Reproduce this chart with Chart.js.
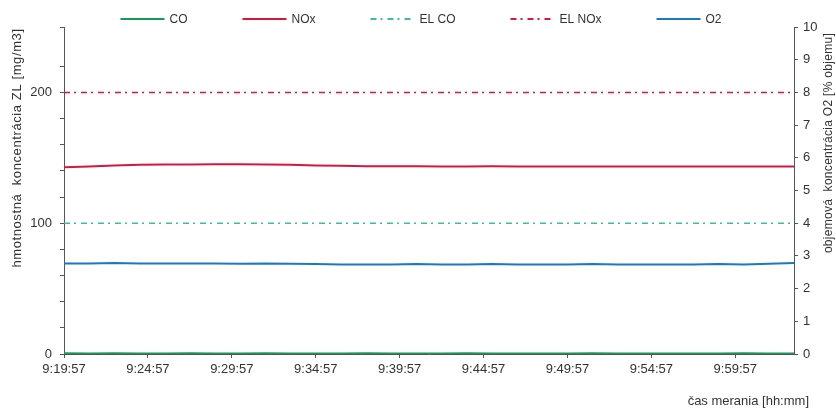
<!DOCTYPE html>
<html>
<head>
<meta charset="utf-8">
<script src="https://cdn.jsdelivr.net/npm/chart.js@4/dist/chart.umd.min.js"></script>
<style>
  html, body { margin: 0; padding: 0; background: #fff; }
  #wrap { width: 836px; height: 409px; position: relative; }
</style>
</head>
<body>
<div id="wrap"><canvas id="c" width="836" height="409"></canvas></div>
<script>
// Measurement start time and sample times (minutes after start)
const startTime = [9, 19, 57];
const minutes = [0, 1.5, 3, 4.5, 6, 7.5, 9, 10.5, 12, 13.5, 15, 16.5, 18, 19.5, 21,
                 22.5, 24, 25.5, 27, 28.5, 30, 31.5, 33, 34.5, 36, 37.5, 39, 40.5, 42, 43.5];

// Mass concentrations [mg/m3]
const co  = [0.5, 0.4, 0.5, 0.4, 0.4, 0.5, 0.4, 0.4, 0.5, 0.4, 0.4, 0.4, 0.5, 0.4, 0.4,
             0.4, 0.5, 0.4, 0.4, 0.4, 0.4, 0.5, 0.4, 0.4, 0.4, 0.4, 0.4, 0.5, 0.4, 0.4];
const nox = [142.7, 143.4, 144.1, 144.6, 144.8, 144.9, 145.0, 145.0, 144.9, 144.6, 144.2, 143.9, 143.6, 143.5, 143.5,
             143.4, 143.4, 143.5, 143.4, 143.4, 143.3, 143.4, 143.3, 143.3, 143.3, 143.4, 143.3, 143.3, 143.3, 143.4];

// Emission limits [mg/m3]
const elCo = 100;
const elNox = 200;

// Volume concentration of O2 [% vol.]
const o2 = [2.77, 2.77, 2.78, 2.77, 2.77, 2.77, 2.77, 2.76, 2.77, 2.76, 2.75, 2.74, 2.74, 2.74, 2.75,
            2.74, 2.74, 2.75, 2.74, 2.74, 2.74, 2.75, 2.74, 2.74, 2.74, 2.74, 2.75, 2.74, 2.76, 2.78];

// Axis texts
const leftTitle = 'hmotnostná  koncentrácia ZL [mg/m3]';
const rightTitle = 'objemová  koncentrácia O2 [% objemu]';
const xTitle = 'čas merania [hh:mm]';
const leftLabels = [0, 100, 200];

const FONT = '"Liberation Sans", Arial, sans-serif';
const TXT = '#333333';
const AXIS = '#555555';

function pts(ys) { return minutes.map((m, i) => ({ x: m, y: ys[i] })); }
function flat(v) { return [{ x: minutes[0], y: v }, { x: minutes[minutes.length - 1], y: v }]; }

function clock(m) {
  let s = startTime[0] * 3600 + startTime[1] * 60 + startTime[2] + Math.round(m * 60);
  const h = Math.floor(s / 3600); s -= h * 3600;
  const mm = Math.floor(s / 60); const ss = s - mm * 60;
  return h + ':' + String(mm).padStart(2, '0') + ':' + String(ss).padStart(2, '0');
}

const DASH = [6, 4, 2, 5];

const datasets = [
  { label: 'CO', data: pts(co), yAxisID: 'y', borderColor: '#159a5c', borderWidth: 2 },
  { label: 'NOx', data: pts(nox), yAxisID: 'y', borderColor: '#d4173f', borderWidth: 2 },
  { label: 'EL CO', data: flat(elCo), yAxisID: 'y', borderColor: '#3dbd9a', borderWidth: 1.5, borderDash: DASH },
  { label: 'EL NOx', data: flat(elNox), yAxisID: 'y', borderColor: '#d3184a', borderWidth: 1.5, borderDash: DASH },
  { label: 'O2', data: pts(o2), yAxisID: 'y1', borderColor: '#1b79c4', borderWidth: 2 }
];
datasets.forEach(d => { d.pointRadius = 0; d.tension = 0; d.fill = false; });

// Legend row and axis titles drawn directly on the canvas
const decorations = {
  id: 'decorations',
  afterDraw(chart) {
    const ctx = chart.ctx;
    ctx.save();
    ctx.font = '12px ' + FONT;
    ctx.fillStyle = TXT;
    ctx.textBaseline = 'middle';

    // legend
    const lineLen = 44, gap = 5, spacing = 55, ly = 19;
    const items = chart.data.datasets.map(d => ({ d, w: ctx.measureText(d.label).width }));
    const total = items.reduce((a, it) => a + lineLen + gap + it.w, 0) + spacing * (items.length - 1);
    let x = 421 - total / 2;
    items.forEach(it => {
      ctx.beginPath();
      ctx.strokeStyle = it.d.borderColor;
      ctx.lineWidth = 2;
      ctx.setLineDash(it.d.borderDash || []);
      ctx.moveTo(x, ly); ctx.lineTo(x + lineLen, ly);
      ctx.stroke();
      ctx.setLineDash([]);
      ctx.textAlign = 'left';
      ctx.fillText(it.d.label, x + lineLen + gap, ly + 1);
      x += lineLen + gap + it.w + spacing;
    });

    ctx.textAlign = 'center';

    // left axis title
    ctx.save();
    ctx.font = '13px ' + FONT;
    ctx.letterSpacing = '0.6px';
    ctx.translate(17, 148);
    ctx.rotate(-Math.PI / 2);
    ctx.fillText(leftTitle, 0, 0);
    ctx.restore();

    // right axis title
    ctx.save();
    ctx.font = '12px ' + FONT;
    ctx.letterSpacing = '0.3px';
    ctx.translate(829, 143);
    ctx.rotate(-Math.PI / 2);
    ctx.fillText(rightTitle, 0, 0);
    ctx.restore();

    // x axis title
    ctx.font = '13px ' + FONT;
    ctx.textAlign = 'right';
    ctx.fillText(xTitle, 809, 401);
    ctx.restore();
  }
};

new Chart(document.getElementById('c'), {
  type: 'line',
  data: { datasets },
  plugins: [decorations],
  options: {
    responsive: false,
    animation: false,
    layout: { padding: { top: 27, left: 0, right: 0, bottom: 0 } },
    plugins: { legend: { display: false }, tooltip: { enabled: false } },
    scales: {
      x: {
        type: 'linear',
        min: minutes[0],
        max: minutes[minutes.length - 1],
        afterBuildTicks: s => { s.ticks = s.ticks.filter(t => t.value % 5 === 0); },
        afterFit: s => { s.height = 55; },
        ticks: {
          stepSize: 5,
          maxRotation: 0,
          autoSkip: false,
          padding: 4,
          color: TXT,
          font: { family: FONT, size: 13 },
          callback: v => clock(v)
        },
        grid: { drawOnChartArea: false, drawTicks: true, tickLength: 4, color: AXIS },
        border: { display: true, color: AXIS, width: 1 }
      },
      y: {
        position: 'left',
        min: 0,
        max: 250,
        afterFit: s => { s.width = 64; },
        ticks: {
          stepSize: 20,
          autoSkip: false,
          padding: 8,
          color: TXT,
          font: { family: FONT, size: 13 },
          callback: v => leftLabels.includes(v) ? String(v) : ''
        },
        grid: { drawOnChartArea: false, drawTicks: true, tickLength: 4, color: AXIS },
        border: { display: true, color: AXIS, width: 1 }
      },
      y1: {
        position: 'right',
        min: 0,
        max: 10,
        afterFit: s => { s.width = 42; },
        ticks: {
          stepSize: 1,
          autoSkip: false,
          padding: 5,
          color: TXT,
          font: { family: FONT, size: 13 }
        },
        grid: { drawOnChartArea: false, drawTicks: true, tickLength: 4, color: AXIS },
        border: { display: true, color: AXIS, width: 1 }
      }
    }
  }
});
</script>
</body>
</html>
